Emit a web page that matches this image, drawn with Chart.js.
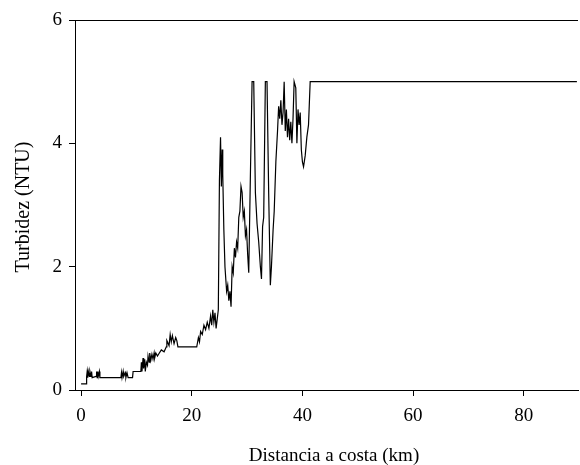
<!DOCTYPE html>
<html><head><meta charset="utf-8">
<script src="https://cdn.jsdelivr.net/npm/chart.js@4.4.0/dist/chart.umd.min.js"></script>
<style>html,body{margin:0;padding:0;background:#fff;} #wrap{width:580px;height:465px;}</style>
</head><body><div id="wrap"><canvas id="c" width="580" height="465"></canvas></div>
<script>
const distanceKm = [
  0.0, 0.9, 1.0, 1.1, 1.2, 1.3, 1.5, 1.6, 1.8, 1.9, 2.0, 2.7, 2.8, 2.9, 3.0, 3.1, 3.3, 3.4,
  7.2, 7.3, 7.4, 7.6, 7.7, 8.0, 8.1, 8.3, 8.5, 9.3, 9.4, 10.8, 10.9, 11.0, 11.2, 11.3, 11.5, 11.6, 11.8,
  12.0, 12.1, 12.3, 12.4, 12.6, 12.8, 13.0, 13.2, 13.3, 13.5, 13.8, 14.0, 14.5, 15.0, 15.4, 15.5, 15.9,
  16.1, 16.3, 16.5, 16.8, 17.1, 17.3, 17.5, 20.9, 21.0, 21.2, 21.4, 21.6, 21.9, 22.2, 22.5,
  22.8, 23.1, 23.4, 23.6, 23.8, 24.0, 24.2, 24.4, 24.6, 24.8, 25.0, 25.2, 25.35, 25.5,
  25.6, 25.8, 26.0, 26.3, 26.5, 26.7, 26.9, 27.1, 27.3, 27.5, 27.7, 27.9, 28.1, 28.3,
  28.5, 28.7, 28.9, 29.1, 29.3, 29.5, 29.7, 29.9, 30.1, 30.3, 30.6, 30.9, 31.2, 31.5,
  31.8, 32.1, 32.4, 32.6, 32.8, 33.0, 33.3, 33.6, 33.9, 34.2, 34.4, 34.7, 34.9, 35.2,
  35.5, 35.7, 35.9, 36.1, 36.3, 36.5, 36.7, 36.9, 37.1, 37.3, 37.5, 37.7, 37.9, 38.1,
  38.3, 38.5, 38.8, 39.0, 39.2, 39.4, 39.6, 39.8, 40.0, 40.2, 40.5, 40.8, 41.1, 41.4,
  89.6
];
const turbidityNTU = [
  0.10, 0.10, 0.22, 0.30, 0.20, 0.30, 0.22, 0.30, 0.22, 0.30, 0.20, 0.22, 0.30, 0.20, 0.30, 0.22, 0.30, 0.20,
  0.20, 0.28, 0.20, 0.30, 0.22, 0.28, 0.20, 0.28, 0.20, 0.20, 0.30, 0.30, 0.45, 0.30, 0.52, 0.35, 0.50, 0.30, 0.45,
  0.40, 0.55, 0.45, 0.60, 0.48, 0.58, 0.50, 0.60, 0.52, 0.60, 0.55, 0.58, 0.65, 0.62, 0.70, 0.80, 0.72,
  0.90, 0.78, 0.88, 0.75, 0.85, 0.80, 0.70, 0.70, 0.75, 0.85, 0.78, 0.95, 0.90, 1.05, 0.98,
  1.10, 1.00, 1.20, 1.05, 1.30, 1.10, 1.25, 1.00, 1.15, 1.30, 3.40, 4.10, 3.30, 3.90,
  3.50, 2.60, 2.00, 1.60, 1.70, 1.45, 1.60, 1.35, 2.00, 1.90, 2.30, 2.15, 2.40, 2.30,
  2.80, 2.90, 3.30, 3.20, 2.80, 2.90, 2.50, 2.60, 2.20, 1.90, 3.50, 5.00, 5.00, 3.20,
  2.70, 2.40, 2.00, 1.80, 2.65, 2.80, 5.00, 5.00, 3.20, 1.70, 2.00, 2.60, 2.90, 3.70,
  4.20, 4.60, 4.40, 4.70, 4.30, 4.50, 5.00, 4.20, 4.55, 4.10, 4.40, 4.05, 4.35, 4.00,
  4.40, 5.00, 4.90, 4.00, 4.55, 4.30, 4.50, 3.90, 3.70, 3.62, 3.80, 4.10, 4.30, 5.00,
  5.00
];
const xTicks = [0, 20, 40, 60, 80];
const yTicks = [0, 2, 4, 6];
const xTitle = 'Distancia a costa (km)';
const yTitle = 'Turbidez (NTU)';

const FONT = 'Liberation Serif';

const framePlugin = {
  id: 'frame',
  afterDraw(chart) {
    const {ctx, chartArea} = chart;
    ctx.save();
    ctx.strokeStyle = '#000';
    ctx.lineWidth = 1;
    ctx.beginPath();
    ctx.moveTo(chartArea.left, chartArea.top + 0.5);
    ctx.lineTo(chartArea.right, chartArea.top + 0.5);
    ctx.stroke();
    ctx.fillStyle = '#000';
    ctx.textAlign = 'center';
    ctx.textBaseline = 'middle';
    ctx.font = '19px "' + FONT + '"';
    ctx.fillText(xTitle, 334, 456);
    ctx.font = '20px "' + FONT + '"';
    ctx.translate(24, 207);
    ctx.rotate(-Math.PI / 2);
    ctx.fillText(yTitle, 0, 0);
    ctx.restore();
  }
};

new Chart(document.getElementById('c'), {
  type: 'scatter',
  data: {
    datasets: [{
      data: distanceKm.map((x, i) => ({x: x, y: turbidityNTU[i]})),
      showLine: true,
      borderColor: '#000',
      borderWidth: 1.2,
      pointRadius: 0,
      tension: 0,
      fill: false
    }]
  },
  options: {
    responsive: false,
    animation: false,
    devicePixelRatio: 1,
    layout: {padding: {left: 0, right: 2, top: 20, bottom: 0}},
    plugins: {legend: {display: false}, tooltip: {enabled: false}},
    scales: {
      x: {
        type: 'linear', min: -1.1, max: 89.8,
        afterBuildTicks: s => { s.ticks = xTicks.map(v => ({value: v})); },
        afterFit: s => { s.height = 75; },
        grid: {drawOnChartArea: false, drawTicks: true, tickLength: 6, color: '#000'},
        border: {display: true, color: '#000', width: 1},
        ticks: {color: '#000', font: {family: FONT, size: 19}, padding: 9, maxRotation: 0}
      },
      y: {
        type: 'linear', min: 0, max: 6,
        afterBuildTicks: s => { s.ticks = yTicks.map(v => ({value: v})); },
        afterFit: s => { s.width = 75; },
        grid: {drawOnChartArea: false, drawTicks: true, tickLength: 6, color: '#000'},
        border: {display: true, color: '#000', width: 1},
        ticks: {color: '#000', font: {family: FONT, size: 19}, padding: 7}
      }
    }
  },
  plugins: [framePlugin]
});
</script>
</body></html>
